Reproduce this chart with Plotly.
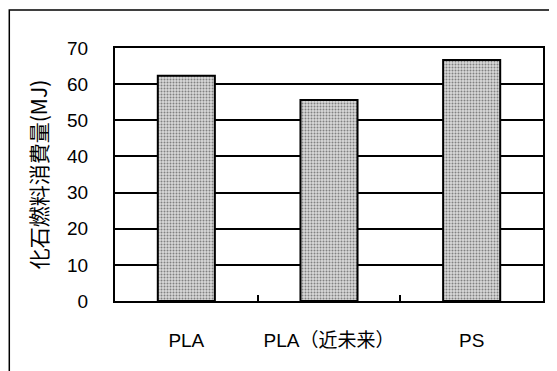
import plotly.graph_objects as go

categories = ["PLA", "PLA（近未来）", "PS"]
values = [62.3, 55.6, 66.7]
y_ticks = [0, 10, 20, 30, 40, 50, 60, 70]
y_title = "化石燃料消費量(MJ)"

FONT = "Liberation Sans, Noto Sans CJK JP, Arial, sans-serif"
CJK = "Noto Sans CJK JP, Liberation Sans, sans-serif"

# page body has an 8px margin: the figure starts at (8, 8) in the window
OFF = 8
W, H = 557 - OFF, 371 - OFF
L, R, T, B = 115 - OFF, 12, 48 - OFF, 70
pw, ph = W - L - R, H - T - B

def px_x(p):  # p in window pixels
    return (p - OFF - L) / pw

def px_y(p):
    return (H - B - (p - OFF)) / ph

fig = go.Figure()
fig.add_trace(go.Bar(
    x=categories,
    y=values,
    marker=dict(
        color="#d0d0d0",
        line=dict(color="black", width=2),
        pattern=dict(shape=".", fgcolor="#2a2a2a", bgcolor="#d8d8d8", size=3, solidity=0.35),
    ),
))

fig.update_layout(
    width=W, height=H,
    margin=dict(l=L, r=R, t=T, b=B),
    paper_bgcolor="white",
    plot_bgcolor="white",
    bargap=0.6,
    showlegend=False,
    font=dict(family=FONT, color="black", size=18),
    xaxis=dict(
        showline=True, linecolor="black", linewidth=2, mirror=True,
        showgrid=False,
        ticks="inside", ticklen=6, tickcolor="black", tickwidth=1.5,
        tickson="boundaries",
        tickfont=dict(size=19, family=FONT),
        ticklabelstandoff=21,
    ),
    yaxis=dict(
        range=[0, 70],
        tickvals=y_ticks,
        showline=True, linecolor="black", linewidth=2, mirror=True,
        showgrid=True, gridcolor="black", gridwidth=1.8,
        ticks="", tickfont=dict(size=19, family=FONT),
        ticklabelstandoff=21,
        zeroline=False,
        title=dict(text=y_title, font=dict(size=21, family=CJK, color="black"), standoff=14),
    ),
    shapes=[dict(
        type="rect", xref="paper", yref="paper",
        x0=px_x(8.8), x1=px_x(580), y0=px_y(400), y1=px_y(10),
        line=dict(color="black", width=1.5),
        fillcolor="rgba(0,0,0,0)",
        layer="above",
    )],
)

fig.write_html("out.html")
